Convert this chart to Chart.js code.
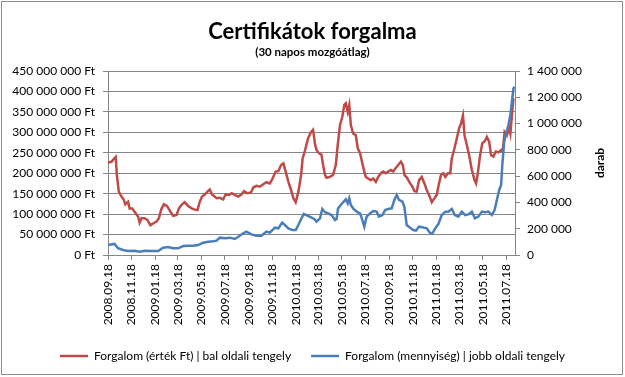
<!DOCTYPE html>
<html>
<head>
<meta charset="utf-8">
<script src="https://cdn.jsdelivr.net/npm/chart.js"></script>
<style>
  html, body { margin: 0; padding: 0; background: #fff; }
  #wrap { width: 625px; height: 377px; }
</style>
</head>
<body>
<div id="wrap"><canvas id="c" width="625" height="377"></canvas></div>
<script>
// ---- data ----
const startDate = '2008.09.18';
const tickLabels = ['2008.09.18','2008.11.18','2009.01.18','2009.03.18','2009.05.18','2009.07.18',
  '2009.09.18','2009.11.18','2010.01.18','2010.03.18','2010.05.18','2010.07.18','2010.09.18',
  '2010.11.18','2011.01.18','2011.03.18','2011.05.18','2011.07.18'];

// Forgalom (érték Ft): days since start, value in million Ft
const valueDay = [0,9,16,20,23,28,35,41,45,52,56,63,69,78,82,87,95,102,110,117,126,132,139,145,153,162,169,178,184,192,199,208,217,225,232,238,244,251,258,264,270,282,290,299,305,314,321,329,338,346,353,362,371,377,385,394,403,411,420,427,435,442,449,455,461,468,475,481,487,494,501,505,511,519,527,532,537,541,547,554,558,563,567,576,584,591,596,602,608,613,617,622,626,630,636,643,648,654,660,665,669,675,682,688,695,701,708,714,721,727,734,740,746,753,760,765,769,775,784,790,795,801,807,814,821,827,833,840,847,853,857,864,870,875,882,888,892,899,905,911,916,921,925,931,937,944,951,955,959,965,971,978,983,989,994,1000,1006,1013,1020,1024,1029,1035,1041,1044,1048,1052];
const valueMillionFt = [226,228,236,240,195,155,143,135,124,130,114,114,106,94,79,90,90,86,73,77,82,90,114,124,120,106,96,98,114,124,129,120,114,111,110,130,143,148,155,160,148,139,140,136,148,147,151,147,143,148,156,151,153,165,169,167,173,178,175,187,204,205,220,224,204,179,159,139,129,155,196,236,255,285,301,306,272,257,249,245,220,196,189,191,196,220,269,318,338,367,371,350,367,318,297,293,261,249,224,204,191,187,183,187,179,191,200,204,200,204,208,204,212,220,228,220,196,190,175,167,156,155,183,191,175,159,147,129,139,147,167,196,200,191,200,200,236,261,285,310,322,341,293,269,244,208,183,175,196,241,273,279,289,277,244,241,253,251,257,253,301,293,310,297,342,383];

// Forgalom (mennyiség): days since start, quantity in thousand pieces
const qtyDay = [0,17,26,39,52,69,82,95,113,130,143,156,169,182,195,208,221,234,247,260,273,282,290,303,316,329,338,351,359,372,385,398,411,420,433,442,452,459,468,478,487,494,502,508,519,528,535,541,550,556,563,571,580,589,593,597,604,610,617,622,626,630,636,645,654,660,665,671,680,688,697,703,712,719,727,736,743,749,755,764,769,775,784,792,799,807,818,827,836,842,849,857,866,875,883,892,900,909,918,927,935,944,952,961,970,978,987,996,1003,1009,1015,1020,1023,1028,1033,1039,1044,1048,1052,1055];
const qtyThousand = [76,84,51,38,30,33,25,33,30,30,56,61,51,51,68,71,71,76,94,101,105,109,132,127,132,122,139,165,178,157,147,147,178,170,208,203,246,228,203,190,190,228,279,312,297,285,274,254,279,350,325,317,304,266,274,355,380,401,424,393,431,380,355,330,317,266,216,292,317,335,330,292,304,342,350,355,419,457,419,406,365,228,208,190,185,216,210,203,165,165,203,234,304,330,330,350,304,292,330,304,309,330,279,292,330,325,330,304,342,419,495,533,685,862,926,989,1066,1166,1268,1281];

const seriesNames = ['Forgalom (érték Ft) | bal oldali tengely', 'Forgalom (mennyiség) | jobb oldali tengely'];
const titleText = 'Certifikátok forgalma';
const subtitleText = '(30 napos mozgóátlag)';
const rightAxisTitle = 'darab';

// ---- helpers ----
function toUTC(s) { const p = s.split('.').map(Number); return Date.UTC(p[0], p[1] - 1, p[2]); }
const t0 = toUTC(startDate);
const tickDays = tickLabels.map(s => Math.round((toUTC(s) - t0) / 86400000));
function spaced(v) { return String(Math.round(v)).replace(/\B(?=(\d{3})+(?!\d))/g, ' '); }

const redData = valueDay.map((d, i) => ({ x: d, y: valueMillionFt[i] * 1e6 }));
const blueData = qtyDay.map((d, i) => ({ x: d, y: qtyThousand[i] * 1e3 }));

const GRID = '#868686';
const FONT = 'Lato';

const framePlugin = {
  id: 'frame',
  beforeDraw(chart) {
    const ctx = chart.ctx;
    ctx.save();
    ctx.fillStyle = '#fff';
    ctx.fillRect(0, 0, chart.width, chart.height);
    ctx.strokeStyle = '#8c8c8c';
    ctx.lineWidth = 1;
    ctx.strokeRect(1.5, 1.5, chart.width - 4, chart.height - 4);
    ctx.restore();
  },
  afterDraw(chart) {
    const ctx = chart.ctx;
    const a = chart.chartArea;
    ctx.save();
    ctx.translate(600, (a.top + a.bottom) / 2);
    ctx.rotate(-Math.PI / 2);
    ctx.font = 'bold 12px ' + FONT;
    ctx.fillStyle = '#000';
    ctx.textAlign = 'center';
    ctx.textBaseline = 'middle';
    ctx.fillText(rightAxisTitle, 0, 0);
    ctx.restore();
  }
};

new Chart(document.getElementById('c'), {
  type: 'line',
  data: {
    datasets: [
      { label: seriesNames[0], data: redData, yAxisID: 'y', borderColor: '#BE4B48', backgroundColor: '#BE4B48',
        borderWidth: 2.5, pointRadius: 0, tension: 0, order: 1 },
      { label: seriesNames[1], data: blueData, yAxisID: 'y1', borderColor: '#4A7EBB', backgroundColor: '#4A7EBB',
        borderWidth: 2.5, pointRadius: 0, tension: 0, order: 0 }
    ]
  },
  options: {
    responsive: false,
    animation: false,
    devicePixelRatio: 1,
    layout: { padding: { left: 0, right: 0, top: 0, bottom: 5 } },
    plugins: {
      tooltip: { enabled: false },
      title: { display: true, text: titleText, color: '#000', font: { family: FONT, size: 22, weight: 'bold', lineHeight: 1.2 },
        padding: { top: 19, bottom: 0 } },
      subtitle: { display: true, text: subtitleText, color: '#000', font: { family: FONT, size: 11.5, weight: 'bold', lineHeight: 1.2 },
        padding: { top: 0, bottom: 11.8 } },
      legend: {
        position: 'bottom',
        labels: {
          color: '#000', font: { family: FONT, size: 12 }, usePointStyle: true, pointStyle: 'line',
          pointStyleWidth: 28, boxHeight: 12, padding: 20,
          sort: (a, b) => a.datasetIndex - b.datasetIndex
        }
      }
    },
    scales: {
      x: {
        type: 'linear', min: 0, max: 1056,
        afterBuildTicks: (s) => { s.ticks = tickDays.map(v => ({ value: v })); },
        afterFit: (s) => { s.height = 75; },
        ticks: { autoSkip: false, maxRotation: 90, minRotation: 90, padding: 4, color: '#000',
          font: { family: FONT, size: 12 }, callback: (v, i) => tickLabels[i] },
        grid: { drawOnChartArea: false, drawTicks: true, tickLength: 5, color: GRID },
        border: { display: true, color: GRID }
      },
      y: {
        position: 'left', min: 0, max: 450e6,
        afterFit: (s) => { s.width = 108; },
        ticks: { stepSize: 50e6, padding: 8, color: '#000', font: { family: FONT, size: 12 },
          callback: (v) => spaced(v) + ' Ft' },
        grid: { color: GRID, tickLength: 5 },
        border: { display: true, color: GRID }
      },
      y1: {
        position: 'right', min: 0, max: 1.4e6,
        afterFit: (s) => { s.width = 110; },
        ticks: { stepSize: 200e3, padding: 7, color: '#000', font: { family: FONT, size: 12 },
          callback: (v) => spaced(v) },
        grid: { drawOnChartArea: false, color: GRID, tickLength: 5 },
        border: { display: true, color: GRID }
      }
    }
  },
  plugins: [framePlugin]
});
</script>
</body>
</html>
